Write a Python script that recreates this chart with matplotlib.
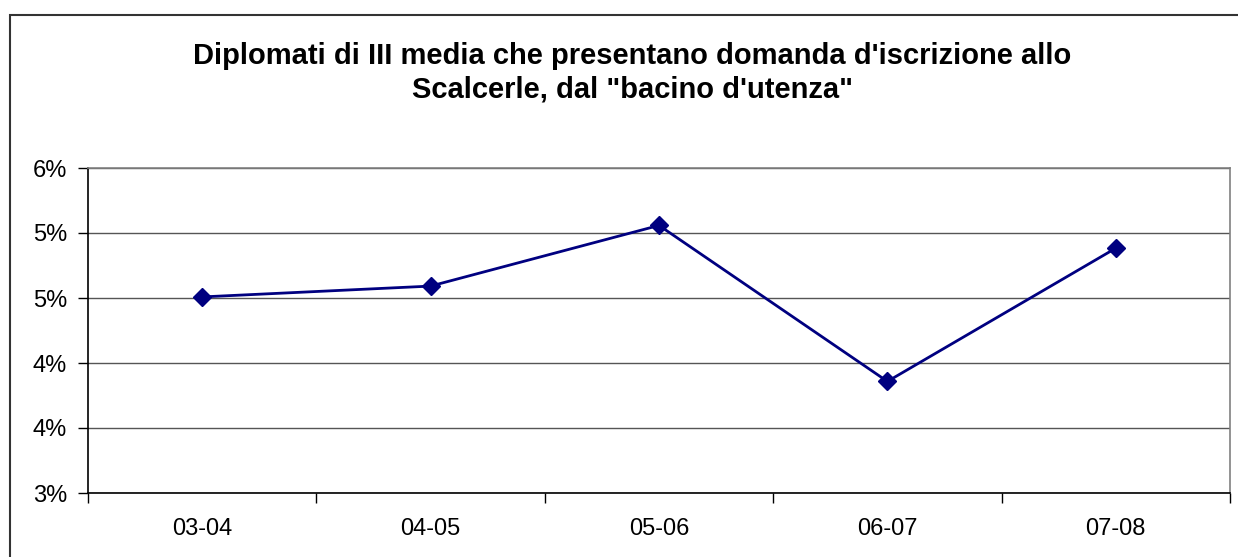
import numpy as np
import matplotlib
matplotlib.use('Agg')
import matplotlib.pyplot as plt
from matplotlib.patches import Rectangle
from matplotlib.ticker import FuncFormatter

# Dati del grafico (valori in percentuale)
anni = ['03-04', '04-05', '05-06', '06-07', '07-08']
percentuali = [4.81, 4.91, 5.47, 4.03, 5.26]
y_ticks = [3.0, 3.6, 4.2, 4.8, 5.4, 6.0]

plt.rcParams['font.family'] = ['Liberation Sans', 'DejaVu Sans']

fig = plt.figure(figsize=(12.38, 5.57), dpi=100)
ax = fig.add_axes([88 / 1238, 64 / 557, (1230 - 88) / 1238, (493 - 168) / 557])

# cornice esterna del grafico (tagliata a destra e in basso)
fig.add_artist(Rectangle((10 / 1238, -0.2), 1.2, (557 - 15) / 557 + 0.2,
                         transform=fig.transFigure, fill=False,
                         edgecolor='#333333', linewidth=1.5))

x = np.arange(len(anni))
ax.plot(x, percentuali, color='#000080', linewidth=2, marker='D',
        markersize=9, markerfacecolor='#000080', markeredgecolor='#000080',
        zorder=3)

ax.set_xlim(-0.5, len(anni) - 0.5)
ax.set_ylim(y_ticks[0], y_ticks[-1])
ax.set_yticks(y_ticks)
ax.yaxis.set_major_formatter(FuncFormatter(lambda v, p: '{:.0f}%'.format(v)))
ax.grid(axis='y', color='#555555', linewidth=1)
ax.set_axisbelow(True)

ax.set_xticks(x)
ax.set_xticklabels(anni)
ax.set_xticks(np.arange(len(anni) + 1) - 0.5, minor=True)
ax.tick_params(axis='x', which='major', length=0, pad=18, labelsize=17)
ax.tick_params(axis='x', which='minor', length=7, width=1, direction='out')
ax.tick_params(axis='y', length=7, width=1, direction='out', pad=8, labelsize=17)

ax.spines['left'].set_color('black')
ax.spines['bottom'].set_color('black')
ax.spines['top'].set_color('#808080')
ax.spines['right'].set_color('#808080')
for s in ax.spines.values():
    s.set_linewidth(1.2)

fig.text(632 / 1238, 1 - 73 / 557,
         'Diplomati di III media che presentano domanda d\'iscrizione allo\n'
         'Scalcerle, dal "bacino d\'utenza"',
         ha='center', va='center', fontsize=21, fontweight='bold',
         linespacing=1.27)

fig.savefig('out.png', dpi=100)
